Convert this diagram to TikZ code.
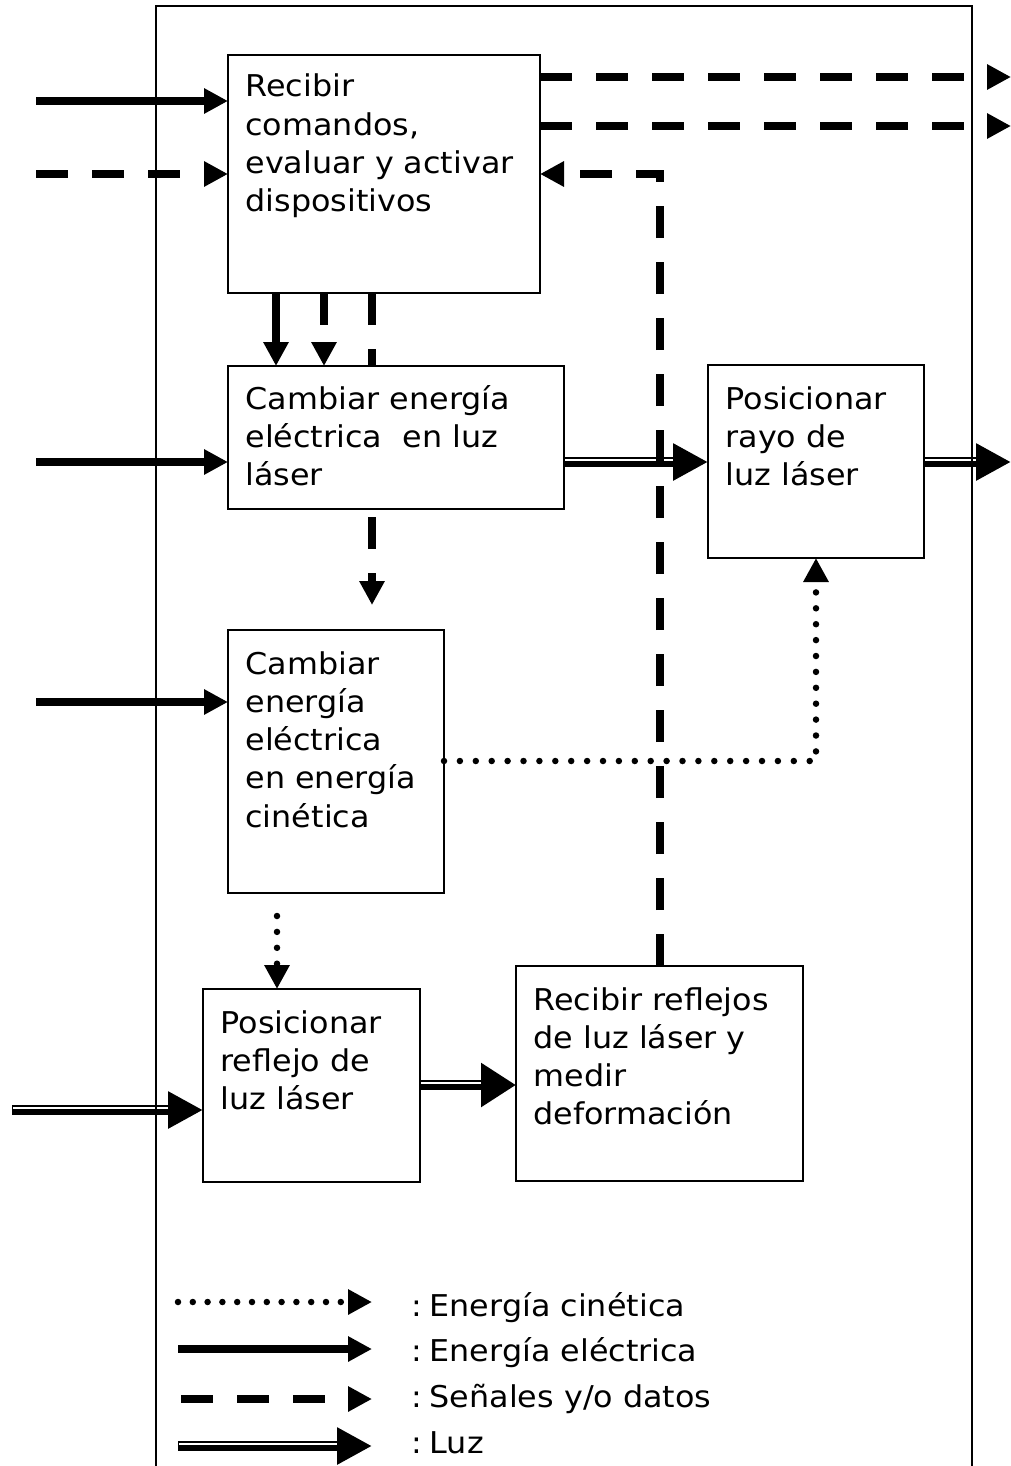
\documentclass[tikz,border=0pt]{standalone}
\usepackage{fontspec}
\setmainfont{DejaVu Sans}[FakeStretch=1.06]
\usetikzlibrary{arrows.meta}
\newcommand{\mlines}[1]{\vtop{\halign{##\hfil\cr#1\crcr}}}
\begin{document}
\begin{tikzpicture}[x=1pt,y=-1pt,
  box/.style={draw, line width=2.3pt, fill=white, rectangle, inner sep=0pt, outer sep=0pt, anchor=north west},
  txt/.style={inner sep=0pt, outer sep=0pt, anchor=base west, font=\fontsize{30pt}{38.3pt}\selectfont},
  elec/.style={line width=8pt, -{Triangle[length=24pt,width=24pt]}},
  sig/.style={line width=7.5pt, dash pattern=on 32pt off 24pt, -{Triangle[length=24pt,width=24pt]}},
  kin/.style={line width=6.5pt, line cap=round, dash pattern=on 0pt off 15.9pt, -{Triangle[length=24pt,width=24pt]}},
  luz/.style={line width=10.5pt, -{Triangle[length=35pt,width=35pt]},
    postaction={draw=white, line width=2pt, -, shorten >=35pt, shorten <=1.2pt, transform canvas={yshift=2pt}}},
]
\useasboundingbox (0,0) rectangle (1011,1466);

% box 1
\node[box, minimum width=312pt, minimum height=238pt] (b1) at (228,55) {};
\node[txt] (t1) at (245.5,97) {\mlines{Recibir\cr comandos,\cr evaluar y activar\cr dispositivos}};

% dashed line passing behind box 2
\coordinate (d3) at (372,605);
\draw[sig] (d3 |- b1.south) -- (d3);

% other boxes
\node[box, minimum width=336pt, minimum height=143pt] (b2) at (228,366) {};
\node[txt] (t2) at (245.5,409) {\mlines{Cambiar energía\cr eléctrica\ \ en luz\cr láser}};

\node[box, minimum width=216pt, minimum height=193pt] (b5) at (708,365) {};
\node[txt] (t5) at (725.5,409) {\mlines{Posicionar\cr rayo de\cr luz láser}};

\node[box, minimum width=216pt, minimum height=263pt] (b3) at (228,630) {};
\node[txt] (t3) at (245.5,674) {\mlines{Cambiar\cr energía\cr eléctrica\cr en energía\cr cinética}};

\node[box, minimum width=217pt, minimum height=193pt] (b4) at (203,989) {};
\node[txt] (t4) at (220.5,1033) {\mlines{Posicionar\cr reflejo de\cr luz láser}};

\node[box, minimum width=287pt, minimum height=215pt] (b6) at (516,966) {};
\node[txt] (t6) at (533.5,1010) {\mlines{Recibir reflejos\cr de luz láser y\cr medir\cr deformación}};

% inputs from the left
\coordinate (in1) at (36,101);
\coordinate (in2) at (36,174);
\coordinate (in3) at (36,462);
\coordinate (in4) at (36,702);
\coordinate (in5) at (12,1110);
\draw[elec] (in1) -- (in1 -| b1.west);
\draw[sig]  (in2) -- (in2 -| b1.west);
\draw[elec] (in3) -- (in3 -| b2.west);
\draw[elec] (in4) -- (in4 -| b3.west);
\draw[luz]  (in5) -- (in5 -| b4.west);

% outputs to the right
\coordinate (o1) at (1011,77);
\coordinate (o2) at (1011,126);
\coordinate (o3) at (1011,462);
\draw[sig] (o1 -| b1.east) -- (o1);
\draw[sig] (o2 -| b1.east) -- (o2);

% box 1 to box 2
\coordinate (c1) at (276,0);
\coordinate (c2) at (324,0);
\draw[elec] (c1 |- b1.south) -- (c1 |- b2.north);
\draw[sig]  (c2 |- b1.south) -- (c2 |- b2.north);

% light paths
\coordinate (l1) at (0,462);
\draw[luz] (l1 -| b2.east) -- (l1 -| b5.west);
\draw[luz] (o3 -| b5.east) -- (o3);
\coordinate (l2) at (0,1085);
\draw[luz, -{Triangle[length=35pt,width=42pt]}] (l2 -| b4.east) -- (l2 -| b6.west);

% kinetic energy
\coordinate (k1) at (816,761);
\draw[kin] (k1 -| b3.east) -- (k1) -- (k1 |- b5.south);
\coordinate (k2) at (277,0);
\draw[kin, shorten <=23pt] (k2 |- b3.south) -- (k2 |- b4.north);

% feedback signal
\coordinate (fb) at (660,174);
\draw[sig] (fb |- b6.north) -- (fb) -- (fb -| b1.east);

% frame
\draw[line width=2pt] (156,1466) -- (156,6) -- (972,6) -- (972,1466);

% legend
\coordinate (g1a) at (178,1302); \coordinate (g1b) at (372,1302);
\coordinate (g2a) at (178,1349); \coordinate (g2b) at (372,1349);
\coordinate (g3a) at (181,1399); \coordinate (g3b) at (372,1399);
\coordinate (g4a) at (178,1446); \coordinate (g4b) at (372,1446);
\draw[kin, dash pattern=on 0pt off 14.8pt] (g1a) -- (g1b);
\draw[elec] (g2a) -- (g2b);
\draw[sig] (g3a) -- (g3b);
\draw[luz] (g4a) -- (g4b);
\node[txt] (L1) at (411,1316) {:\kern8pt Energía cinética};
\node[txt] (L2) at (411,1361) {:\kern8pt Energía eléctrica};
\node[txt] (L3) at (411,1407) {:\kern8pt Señales y/o datos};
\node[txt] (L4) at (411,1453) {:\kern8pt Luz};
\end{tikzpicture}
\end{document}
